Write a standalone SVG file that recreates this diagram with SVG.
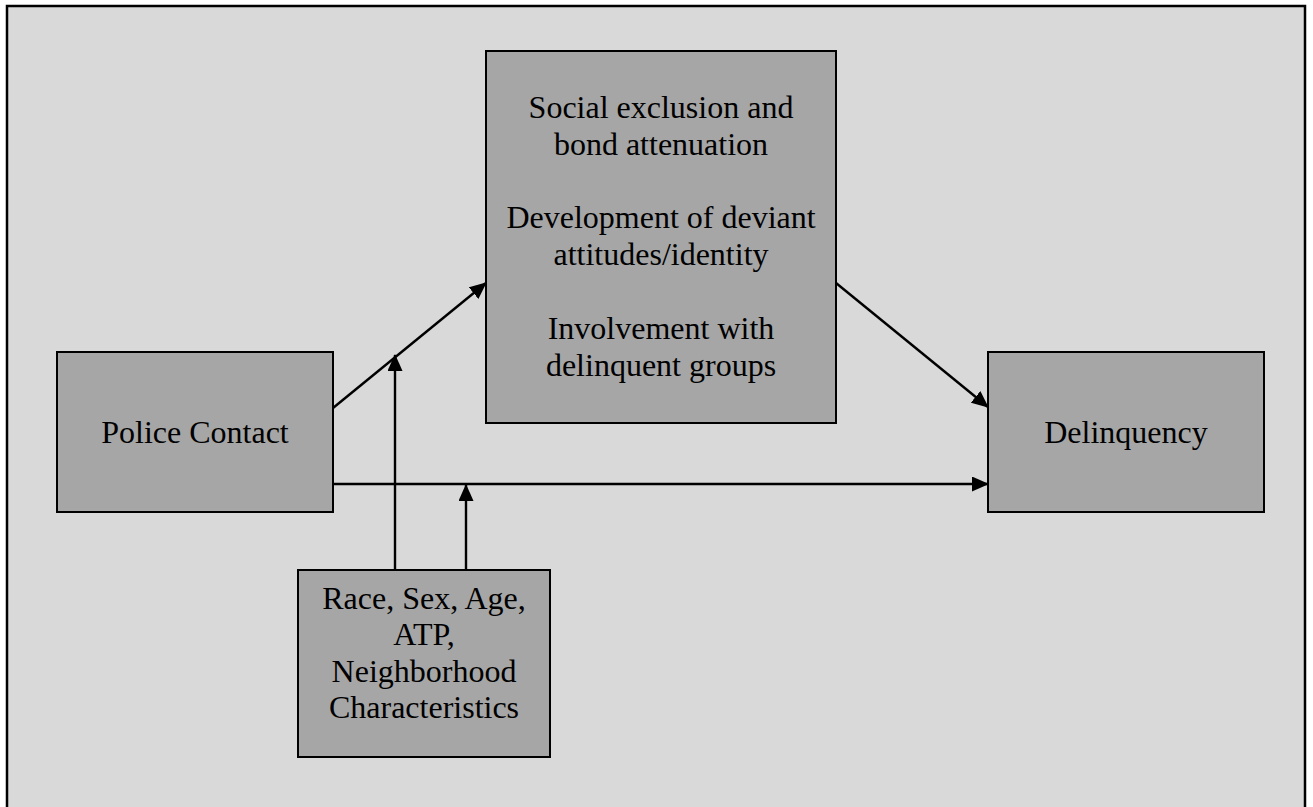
<svg xmlns="http://www.w3.org/2000/svg" width="1313" height="807" viewBox="0 0 1313 807">
<style>
.box{fill:#a6a6a6;stroke:#000;stroke-width:2}
.t{font-family:"Liberation Serif","Times New Roman",serif;font-size:32px;fill:#000;text-anchor:middle}
.c{stroke:#000;stroke-width:2.4;fill:none;marker-end:url(#ah)}
</style>
<defs>
<marker id="ah" markerUnits="userSpaceOnUse" markerWidth="17" markerHeight="15" refX="16" refY="7.5" orient="auto">
<path d="M0,0 L17,7.5 L0,15 Z" fill="#000"/>
</marker>
</defs>
<rect x="0" y="0" width="1313" height="807" fill="#fff"/>
<rect id="frame" x="7" y="6" width="1298" height="820" fill="#d9d9d9" stroke="#000" stroke-width="2.5"/>
<g id="police">
<rect class="box" x="57" y="352" width="276" height="160"/>
<text class="t" x="195" y="443">Police Contact</text>
</g>
<g id="mediators">
<rect class="box" x="486" y="51" width="350" height="372"/>
<text class="t" x="661" y="118">Social exclusion and</text>
<text class="t" x="661" y="155">bond attenuation</text>
<text class="t" x="661" y="228">Development of deviant</text>
<text class="t" x="661" y="265">attitudes/identity</text>
<text class="t" x="661" y="339">Involvement with</text>
<text class="t" x="661" y="376">delinquent groups</text>
</g>
<g id="delinquency">
<rect class="box" x="988" y="352" width="276" height="160"/>
<text class="t" x="1126" y="443">Delinquency</text>
</g>
<g id="controls">
<rect class="box" x="298" y="570" width="252" height="187"/>
<text class="t" x="424" y="609">Race, Sex, Age,</text>
<text class="t" x="424" y="645">ATP,</text>
<text class="t" x="424" y="682">Neighborhood</text>
<text class="t" x="424" y="718">Characteristics</text>
</g>
<g id="connectors">
<line class="c" x1="333" y1="408" x2="486" y2="283"/>
<line class="c" x1="836" y1="283" x2="988" y2="407"/>
<line class="c" x1="333" y1="484" x2="988" y2="484"/>
<line class="c" x1="395" y1="570" x2="395" y2="355"/>
<line class="c" x1="466" y1="570" x2="466" y2="485"/>
</g>
</svg>
